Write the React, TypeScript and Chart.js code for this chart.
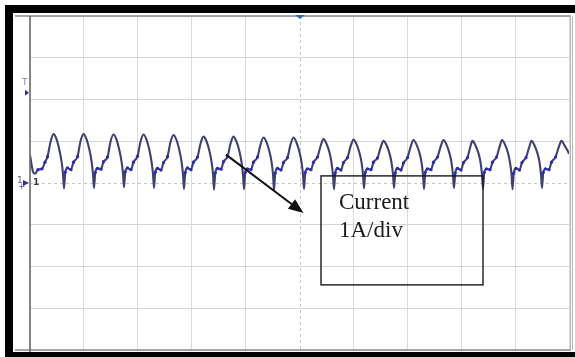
import { useEffect, useRef } from "react";
import { Chart, registerables } from "chart.js";

Chart.register(...registerables);

// Time axis (µs, arbitrary scope units) and measured current (A, 1 A/div)
const TIME_US = [
  0, 0.6, 1.0, 1.6, 2.4, 3.0, 3.5, 4.1,
  4.7, 5.3, 5.9, 6.3, 6.6, 6.8, 7.05, 7.5, 8.2, 8.7, 9.5, 10.1,
  10.7, 11.3, 11.9, 12.3, 12.6, 12.8, 13.05, 13.5, 14.2, 14.7, 15.5, 16.1,
  16.7, 17.3, 17.9, 18.3, 18.6, 18.8, 19.05, 19.5, 20.2, 20.7, 21.5, 22.1,
  22.7, 23.3, 23.9, 24.3, 24.6, 24.8, 25.05, 25.5, 26.2, 26.7, 27.5, 28.1,
  28.7, 29.3, 29.9, 30.3, 30.6, 30.8, 31.05, 31.5, 32.2, 32.7, 33.5, 34.1,
  34.7, 35.3, 35.9, 36.3, 36.6, 36.8, 37.05, 37.5, 38.2, 38.7, 39.5, 40.1,
  40.7, 41.3, 41.9, 42.3, 42.6, 42.8, 43.05, 43.5, 44.2, 44.7, 45.5, 46.1,
  46.7, 47.3, 47.9, 48.3, 48.6, 48.8, 49.05, 49.5, 50.2, 50.7, 51.5, 52.1,
  52.7, 53.3, 53.9, 54.3, 54.6, 54.8, 55.05, 55.5, 56.2, 56.7, 57.5, 58.1,
  58.7, 59.3, 59.9, 60.3, 60.6, 60.8, 61.05, 61.5, 62.2, 62.7, 63.5, 64.1,
  64.7, 65.3, 65.9, 66.3, 66.6, 66.8, 67.05, 67.5, 68.2, 68.7, 69.5, 70.1,
  70.7, 71.3, 71.9, 72.3, 72.6, 72.8, 73.05, 73.5, 74.2, 74.7, 75.5, 76.1,
  76.7, 77.3, 77.9, 78.3, 78.6, 78.8, 79.05, 79.5, 80.2, 80.7, 81.5, 82.1,
  82.7, 83.3, 83.9, 84.3, 84.6, 84.8, 85.05, 85.5, 86.2, 86.7, 87.5, 88.0,
  88.5, 89.1, 89.7, 90.1, 90.4, 90.6, 90.85, 91.3, 92.0, 92.5, 93.3, 93.9,
  94.4, 95.0, 95.6, 96.0, 96.3, 96.5, 96.75, 97.2, 97.9, 98.4, 99.2, 99.8,
  100.3, 100.9, 101.5, 101.9, 102.2, 102.4, 102.65, 103.1, 103.8, 104.3, 105.1, 105.7,
  106.3, 106.9, 107.5, 107.8,
];

const CURRENT_A = [
  0.67, 0.27, 0.22, 0.32, 0.34, 0.5, 0.63, 0.98,
  1.17, 1.05, 0.78, 0.52, 0.22, -0.13, 0.26, 0.36, 0.32, 0.5, 0.63, 1.0,
  1.17, 1.05, 0.79, 0.53, 0.21, -0.12, 0.25, 0.35, 0.33, 0.51, 0.62, 0.99,
  1.16, 1.04, 0.77, 0.52, 0.23, -0.1, 0.27, 0.36, 0.32, 0.5, 0.64, 0.99,
  1.16, 1.04, 0.78, 0.51, 0.22, -0.12, 0.26, 0.35, 0.31, 0.49, 0.63, 0.98,
  1.15, 1.03, 0.77, 0.52, 0.21, -0.14, 0.25, 0.36, 0.32, 0.5, 0.62, 0.94,
  1.11, 1.0, 0.76, 0.51, 0.22, -0.16, 0.24, 0.35, 0.33, 0.51, 0.63, 0.94,
  1.11, 0.99, 0.75, 0.5, 0.2, -0.15, 0.25, 0.34, 0.32, 0.5, 0.62, 0.92,
  1.09, 0.98, 0.75, 0.51, 0.21, -0.17, 0.24, 0.35, 0.31, 0.49, 0.61, 0.92,
  1.09, 0.97, 0.74, 0.5, 0.2, -0.14, 0.25, 0.34, 0.32, 0.5, 0.62, 0.88,
  1.05, 0.94, 0.73, 0.49, 0.19, -0.15, 0.24, 0.35, 0.31, 0.49, 0.61, 0.87,
  1.04, 0.93, 0.72, 0.5, 0.2, -0.13, 0.25, 0.34, 0.32, 0.5, 0.6, 0.84,
  1.01, 0.91, 0.71, 0.49, 0.21, -0.12, 0.24, 0.35, 0.31, 0.48, 0.61, 0.86,
  1.03, 0.92, 0.72, 0.5, 0.2, -0.14, 0.25, 0.34, 0.32, 0.5, 0.62, 0.86,
  1.03, 0.92, 0.71, 0.49, 0.19, -0.12, 0.24, 0.35, 0.31, 0.49, 0.61, 0.84,
  1.01, 0.9, 0.71, 0.5, 0.2, -0.13, 0.25, 0.34, 0.32, 0.5, 0.62, 0.86,
  1.03, 0.92, 0.72, 0.49, 0.21, -0.15, 0.24, 0.35, 0.31, 0.49, 0.61, 0.84,
  1.01, 0.9, 0.71, 0.5, 0.2, -0.12, 0.25, 0.34, 0.32, 0.5, 0.62, 0.84,
  1.01, 0.9, 0.78, 0.7,
];

const X_MIN = 0;
const X_MAX = 107.8;
const X_DIVISIONS = 10;
const Y_MIN = -4;
const Y_MAX = 4;

const ANNOTATION_LINES = ["Current", "1A/div"];
const ANNOTATION_TEXT_X = 61.8;
const ANNOTATION_TEXT_Y = [-0.62, -1.29];
const ANNOTATION_BOX = { x0: 58.2, x1: 90.6, y0: 0.17, y1: -2.44 };
const ARROW = { x0: 39.2, y0: 0.68, x1: 54.7, y1: -0.72 };
const CHANNEL_LABEL = "1";
const TRIGGER_LABEL = "T";
const TRIGGER_LEVEL = 2.16;

const scopePlugin = {
  id: "scopePlugin",
  beforeDraw(chart: any) {
    const { ctx, width, height } = chart;
    ctx.save();
    ctx.fillStyle = "#ffffff";
    ctx.fillRect(0, 0, width, height);
    ctx.restore();
  },
  beforeDatasetsDraw(chart: any) {
    const { ctx, chartArea: ca, scales } = chart;
    const xs = scales.x;
    const ys = scales.y;
    ctx.save();
    ctx.strokeStyle = "#c6c6c6";
    ctx.lineWidth = 1;
    ctx.setLineDash([3, 3]);
    const cx = Math.round(xs.getPixelForValue((X_MIN + X_MAX) / 2)) + 0.5;
    const cy = Math.round(ys.getPixelForValue(0)) + 0.5;
    ctx.beginPath();
    ctx.moveTo(cx, ca.top);
    ctx.lineTo(cx, ca.bottom);
    ctx.moveTo(ca.left, cy);
    ctx.lineTo(ca.right, cy);
    ctx.stroke();
    ctx.restore();
  },
  afterDraw(chart: any) {
    const { ctx, chartArea: ca, scales, width, height } = chart;
    const xs = scales.x;
    const ys = scales.y;
    ctx.save();

    // outer black frame
    ctx.fillStyle = "#000";
    ctx.fillRect(5, 5, width - 5, 8);
    ctx.fillRect(5, 5, 8, height - 5);
    ctx.fillRect(5, height - 5, width - 5, 5);

    // plot border lines
    ctx.strokeStyle = "#8c8c8c";
    ctx.lineWidth = 1.5;
    ctx.beginPath();
    ctx.moveTo(15, ca.top);
    ctx.lineTo(width - 4, ca.top);
    ctx.moveTo(15, ca.bottom);
    ctx.lineTo(width - 4, ca.bottom);
    ctx.stroke();
    ctx.strokeStyle = "#b5b5b5";
    ctx.lineWidth = 1;
    ctx.beginPath();
    ctx.moveTo(ca.right + 1.5, ca.top);
    ctx.lineTo(ca.right + 1.5, ca.bottom);
    ctx.moveTo(ca.right + 3.5, ca.top);
    ctx.lineTo(ca.right + 3.5, ca.bottom);
    ctx.stroke();
    ctx.strokeStyle = "#6b6b6b";
    ctx.lineWidth = 1.6;
    ctx.beginPath();
    ctx.moveTo(ca.left, ca.top);
    ctx.lineTo(ca.left, ca.bottom + 2);
    ctx.stroke();

    // trigger marker at top centre
    const cx = xs.getPixelForValue((X_MIN + X_MAX) / 2) + 0.5;
    ctx.fillStyle = "#2b6cb5";
    ctx.beginPath();
    ctx.moveTo(cx - 5, ca.top - 1);
    ctx.lineTo(cx + 5, ca.top - 1);
    ctx.lineTo(cx, ca.top + 3);
    ctx.closePath();
    ctx.fill();

    // channel ground marker
    const y0 = ys.getPixelForValue(0);
    ctx.font = '9px "DejaVu Sans"';
    ctx.textBaseline = "middle";
    ctx.fillStyle = "#5a5a78";
    ctx.fillText(CHANNEL_LABEL, ca.left - 13, y0 - 2);
    ctx.fillText("+", ca.left - 12, y0 + 4);
    ctx.fillStyle = "#2c2ca0";
    ctx.beginPath();
    ctx.moveTo(ca.left - 7, y0 - 3);
    ctx.lineTo(ca.left - 7, y0 + 3);
    ctx.lineTo(ca.left - 1, y0);
    ctx.closePath();
    ctx.fill();
    ctx.fillStyle = "#3a3a3a";
    ctx.font = 'bold 9px "DejaVu Sans"';
    ctx.fillText(CHANNEL_LABEL, ca.left + 3, y0);

    // trigger level marker
    const yt = ys.getPixelForValue(TRIGGER_LEVEL);
    ctx.fillStyle = "#8a8a8a";
    ctx.font = '9px "DejaVu Sans"';
    ctx.fillText(TRIGGER_LABEL, ca.left - 8, yt - 10);
    ctx.fillStyle = "#2c2ca0";
    ctx.beginPath();
    ctx.moveTo(ca.left - 5, yt - 3);
    ctx.lineTo(ca.left - 5, yt + 3);
    ctx.lineTo(ca.left - 1, yt);
    ctx.closePath();
    ctx.fill();

    // annotation box
    const bx0 = xs.getPixelForValue(ANNOTATION_BOX.x0);
    const bx1 = xs.getPixelForValue(ANNOTATION_BOX.x1);
    const by0 = ys.getPixelForValue(ANNOTATION_BOX.y0);
    const by1 = ys.getPixelForValue(ANNOTATION_BOX.y1);
    ctx.strokeStyle = "#1a1a1a";
    ctx.lineWidth = 1.4;
    ctx.strokeRect(bx0, by0, bx1 - bx0, by1 - by0);

    ctx.fillStyle = "#1a1a1a";
    ctx.font = '23px "Liberation Serif"';
    ctx.textBaseline = "alphabetic";
    ANNOTATION_LINES.forEach((line, i) => {
      ctx.fillText(line, xs.getPixelForValue(ANNOTATION_TEXT_X), ys.getPixelForValue(ANNOTATION_TEXT_Y[i]));
    });

    // arrow
    const ax0 = xs.getPixelForValue(ARROW.x0);
    const ay0 = ys.getPixelForValue(ARROW.y0);
    const ax1 = xs.getPixelForValue(ARROW.x1);
    const ay1 = ys.getPixelForValue(ARROW.y1);
    const ang = Math.atan2(ay1 - ay0, ax1 - ax0);
    const headLen = 15;
    const headHalf = 6;
    const bxh = ax1 - headLen * Math.cos(ang);
    const byh = ay1 - headLen * Math.sin(ang);
    ctx.strokeStyle = "#111";
    ctx.lineWidth = 2;
    ctx.beginPath();
    ctx.moveTo(ax0, ay0);
    ctx.lineTo(bxh, byh);
    ctx.stroke();
    ctx.fillStyle = "#111";
    ctx.beginPath();
    ctx.moveTo(ax1, ay1);
    ctx.lineTo(bxh + headHalf * Math.sin(ang), byh - headHalf * Math.cos(ang));
    ctx.lineTo(bxh - headHalf * Math.sin(ang), byh + headHalf * Math.cos(ang));
    ctx.closePath();
    ctx.fill();

    ctx.restore();
  },
};

// blue sample dots on the rising shoulder of each ripple
const isShoulder = (i: number) =>
  i > 0 && CURRENT_A[i] > 0.2 && CURRENT_A[i] < 0.7 && CURRENT_A[i] >= CURRENT_A[i - 1] - 0.05 && CURRENT_A[i - 1] < 0.7;

export default function App() {
  const canvasRef = useRef<HTMLCanvasElement | null>(null);

  useEffect(() => {
    const canvas = canvasRef.current;
    if (!canvas) return;
    const xGrid: number[] = [];
    for (let i = 0; i <= X_DIVISIONS; i++) xGrid.push((X_MAX - X_MIN) * (i / X_DIVISIONS) + X_MIN);

    const chart = new Chart(canvas, {
      type: "line",
      data: {
        datasets: [
          {
            label: "Current",
            data: TIME_US.map((t, i) => ({ x: t, y: CURRENT_A[i] })),
            borderColor: "#40406f",
            borderWidth: 2.1,
            pointRadius: (c: any) => (isShoulder(c.dataIndex) ? 1.6 : 0),
            pointBorderWidth: 0,
            pointBackgroundColor: "#2a2ab4",
            cubicInterpolationMode: "monotone",
            fill: false,
          },
        ],
      },
      options: {
        responsive: false,
        animation: false,
        devicePixelRatio: 1,
        layout: { padding: { left: 30, top: 16, right: 6, bottom: 7 } },
        plugins: { legend: { display: false }, tooltip: { enabled: false } },
        scales: {
          x: {
            type: "linear",
            min: X_MIN,
            max: X_MAX,
            afterBuildTicks: (scale: any) => {
              scale.ticks = xGrid.map((v) => ({ value: v }));
            },
            ticks: { display: false },
            border: { display: false },
            grid: {
              drawTicks: false,
              lineWidth: 1,
              color: (c: any) => (c.index === X_DIVISIONS / 2 ? "rgba(0,0,0,0)" : "#dadada"),
            },
          },
          y: {
            type: "linear",
            min: Y_MIN,
            max: Y_MAX,
            ticks: { display: false, stepSize: 1 },
            border: { display: false },
            grid: {
              drawTicks: false,
              lineWidth: 1,
              color: (c: any) => (c.tick && c.tick.value === 0 ? "rgba(0,0,0,0)" : "#d6d6d6"),
            },
          },
        },
      },
      plugins: [scopePlugin],
    });
    return () => chart.destroy();
  }, []);

  return (
    <div style={{ position: "fixed", left: 0, top: 0, width: 575, height: 357, background: "#fff" }}>
      <canvas ref={canvasRef} width={575} height={357} style={{ display: "block", width: 575, height: 357 }} />
    </div>
  );
}
